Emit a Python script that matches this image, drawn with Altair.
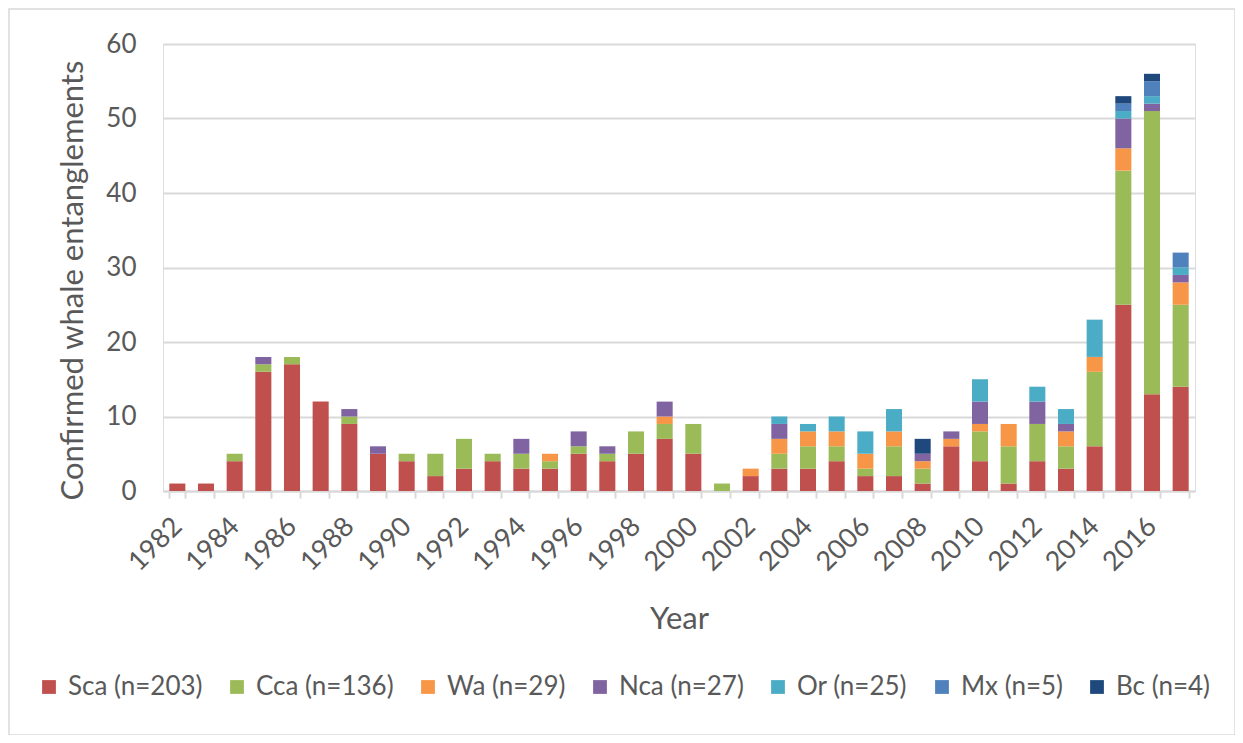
import altair as alt
import pandas as pd

years = list(range(1982, 2018))
series = ["Sca (n=203)", "Cca (n=136)", "Wa (n=29)", "Nca (n=27)", "Or (n=25)", "Mx (n=5)", "Bc (n=4)"]
colors = ["#C0504D", "#9BBB59", "#F79646", "#8064A2", "#4BACC6", "#4F81BD", "#1F497D"]

sca = [1, 1, 4, 16, 17, 12, 9, 5, 4, 2, 3, 4, 3, 3, 5, 4, 5, 7, 5, 0, 2, 3, 3, 4, 2, 2, 1, 6, 4, 1, 4, 3, 6, 25, 13, 14]
cca = [0, 0, 1, 1, 1, 0, 1, 0, 1, 3, 4, 1, 2, 1, 1, 1, 3, 2, 4, 1, 0, 2, 3, 2, 1, 4, 2, 0, 4, 5, 5, 3, 10, 18, 38, 11]
wa = [0, 0, 0, 0, 0, 0, 0, 0, 0, 0, 0, 0, 0, 1, 0, 0, 0, 1, 0, 0, 1, 2, 2, 2, 2, 2, 1, 1, 1, 3, 0, 2, 2, 3, 0, 3]
nca = [0, 0, 0, 1, 0, 0, 1, 1, 0, 0, 0, 0, 2, 0, 2, 1, 0, 2, 0, 0, 0, 2, 0, 0, 0, 0, 1, 1, 3, 0, 3, 1, 0, 4, 1, 1]
orr = [0, 0, 0, 0, 0, 0, 0, 0, 0, 0, 0, 0, 0, 0, 0, 0, 0, 0, 0, 0, 0, 1, 1, 2, 3, 3, 0, 0, 3, 0, 2, 2, 5, 1, 1, 1]
mx = [0, 0, 0, 0, 0, 0, 0, 0, 0, 0, 0, 0, 0, 0, 0, 0, 0, 0, 0, 0, 0, 0, 0, 0, 0, 0, 0, 0, 0, 0, 0, 0, 0, 1, 2, 2]
bc = [0, 0, 0, 0, 0, 0, 0, 0, 0, 0, 0, 0, 0, 0, 0, 0, 0, 0, 0, 0, 0, 0, 0, 0, 0, 0, 2, 0, 0, 0, 0, 0, 0, 1, 1, 0]

values = [sca, cca, wa, nca, orr, mx, bc]
rows = []
for si, (name, vals) in enumerate(zip(series, values)):
    for y, v in zip(years, vals):
        if v > 0:
            rows.append({"Year": y, "Region": name, "Count": v, "order": si})
df = pd.DataFrame(rows)

FONT = "Lato"
GRAY = "#595959"
LINE = "#D9D9D9"

frame = alt.Chart(pd.DataFrame({"a": [0]})).mark_rect(
    fillOpacity=0, stroke=LINE, strokeWidth=1.5
).encode(
    x=alt.value(-154), x2=alt.value(1072), y=alt.value(-35), y2=alt.value(691)
)

bars = alt.Chart(df).mark_bar().encode(
    x=alt.X("Year:O", title="Year", scale=alt.Scale(domain=years, paddingInner=0.44, paddingOuter=0.22),
            axis=alt.Axis(labelAngle=-45, labelAlign="right", labelBaseline="middle",
                          labelExpr="datum.value % 2 == 0 ? datum.label : ''",
                          tickBand="extent", tickSize=7, tickColor=LINE, tickWidth=2,
                          domainColor=LINE, domainWidth=2, labelFontSize=27,
                          labelColor=GRAY, labelPadding=24, titleFontSize=31,
                          titleColor=GRAY, titleFontWeight="normal",
                          titleBaseline="alphabetic", titleY=137,
                          labelFont=FONT, titleFont=FONT)),
    y=alt.Y("Count:Q", title="Confirmed whale entanglements", stack="zero",
            scale=alt.Scale(domain=[0, 60], nice=False),
            axis=alt.Axis(values=[0, 10, 20, 30, 40, 50, 60], domain=False, ticks=False,
                          gridColor=LINE, gridWidth=2, labelFontSize=26, labelColor=GRAY,
                          labelPadding=27, titleFontSize=31, titleColor=GRAY,
                          titleFontWeight="normal", titleAngle=-90, titleAlign="center",
                          titleBaseline="middle", titleX=-90, titleY=236,
                          labelFont=FONT, titleFont=FONT)),
    color=alt.Color("Region:N", scale=alt.Scale(domain=series, range=colors), sort=series,
                    legend=alt.Legend(title=None, orient="none", direction="horizontal",
                                      legendX=-127, legendY=630, columns=7,
                                      symbolType="square", symbolSize=190, symbolStrokeWidth=0,
                                      symbolOpacity=1, labelFontSize=26, labelColor=GRAY,
                                      labelFont=FONT, columnPadding=21, labelOffset=6)),
    order=alt.Order("order:Q", sort="ascending"),
)

chart = alt.layer(frame, bars).properties(
    width=1032, height=447,
    autosize=alt.AutoSizeParams(type="none"),
    padding={"left": 155, "top": 36, "right": 40, "bottom": 244},
).configure_view(stroke=None).configure(background="white")

chart.save("out.html", embed_options={"renderer": "svg", "actions": False})
